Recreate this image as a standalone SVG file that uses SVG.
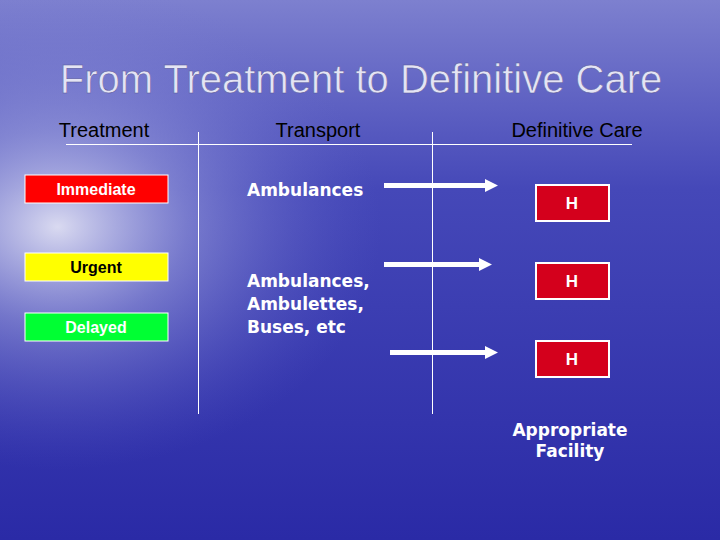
<svg xmlns="http://www.w3.org/2000/svg" width="720" height="540" viewBox="0 0 720 540">
<defs>
<linearGradient id="bg" x1="0" y1="0" x2="0" y2="1">
<stop offset="0" stop-color="#7d80cf"/>
<stop offset="0.35" stop-color="#4548b8"/>
<stop offset="1" stop-color="#2a2aa6"/>
</linearGradient>
<radialGradient id="glow" cx="0.08" cy="0.42" r="0.45">
<stop offset="0" stop-color="#ffffff" stop-opacity="0.8"/>
<stop offset="0.4" stop-color="#c8cbf0" stop-opacity="0.4"/>
<stop offset="1" stop-color="#6a6dd0" stop-opacity="0"/>
</radialGradient>
<style>
.t{font-family:"Liberation Sans",Arial,sans-serif}
.hd{font-size:20px;fill:#000;text-anchor:middle}
.lbl{font-size:16px;font-weight:bold;text-anchor:middle}
.tr{font-size:17px;font-weight:bold;fill:#fff;font-family:"DejaVu Sans",sans-serif}
.h{fill:#d4001c;stroke:#fff;stroke-width:2}
.ht{font-size:17px;font-weight:bold;fill:#fff;text-anchor:middle}
.ln{stroke:#fff;stroke-width:1}
.ar{fill:#fff}
</style>
</defs>
<rect width="720" height="540" fill="url(#bg)"/>
<rect width="720" height="540" fill="url(#glow)"/>
<text class="t" x="361" y="93" font-size="40" fill="#e4e4f4" stroke="#555599" stroke-width="0.5" text-anchor="middle">From Treatment to Definitive Care</text>
<g id="headers">
<text class="t hd" x="104" y="137">Treatment</text>
<text class="t hd" x="318" y="137">Transport</text>
<text class="t hd" x="577" y="137">Definitive Care</text>
</g>
<g id="grid">
<line class="ln" x1="66" y1="144.5" x2="632" y2="144.5"/>
<line class="ln" x1="198.5" y1="132" x2="198.5" y2="414"/>
<line class="ln" x1="432.5" y1="132" x2="432.5" y2="414"/>
</g>
<g id="immediate"><rect x="25" y="175" width="143" height="28" fill="#ff0000" stroke="#fff" stroke-width="1"/><text class="t lbl" x="96" y="195" fill="#fff">Immediate</text></g>
<g id="urgent"><rect x="25" y="253" width="143" height="28" fill="#ffff00" stroke="#fff" stroke-width="1"/><text class="t lbl" x="96" y="273" fill="#000">Urgent</text></g>
<g id="delayed"><rect x="25" y="313" width="143" height="28" fill="#00ff33" stroke="#fff" stroke-width="1"/><text class="t lbl" x="96" y="333" fill="#fff">Delayed</text></g>
<g id="transport1"><text class="tr" x="247" y="196">Ambulances</text></g>
<g id="transport2"><text class="tr" x="247" y="287">Ambulances,</text><text class="tr" x="247" y="310">Ambulettes,</text><text class="tr" x="247" y="333">Buses, etc</text></g>
<g id="connectors">
<polygon class="ar" points="384,183 485,183 485,179 498,185.5 485,192 485,188 384,188"/>
<polygon class="ar" points="384,262 479,262 479,258 492,264.5 479,271 479,267 384,267"/>
<polygon class="ar" points="390,350 485,350 485,346 498,352.5 485,359 485,355 390,355"/>
</g>
<g id="h1"><rect class="h" x="536" y="185" width="73" height="36"/><text class="t ht" x="572" y="209">H</text></g>
<g id="h2"><rect class="h" x="536" y="263" width="73" height="36"/><text class="t ht" x="572" y="287">H</text></g>
<g id="h3"><rect class="h" x="536" y="341" width="73" height="36"/><text class="t ht" x="572" y="365">H</text></g>
<g id="facility"><text class="tr" x="570" y="436" font-size="16" text-anchor="middle">Appropriate</text><text class="tr" x="570" y="457" font-size="16" text-anchor="middle">Facility</text></g>
</svg>
